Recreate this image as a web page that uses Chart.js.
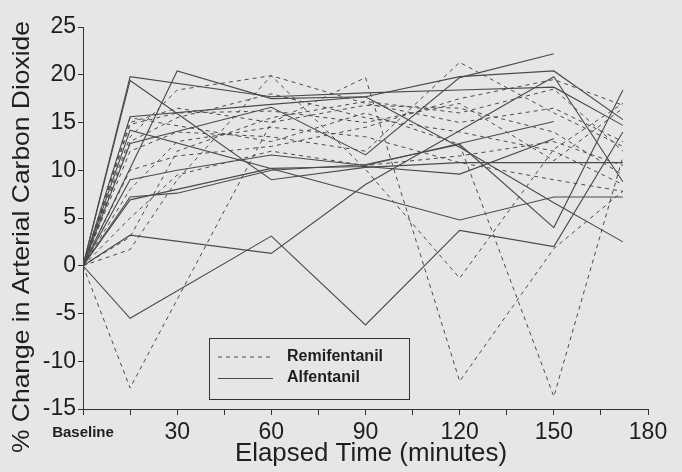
<!DOCTYPE html>
<html>
<head>
<meta charset="utf-8">
<script src="https://cdn.jsdelivr.net/npm/chart.js"></script>
<style>
  html, body { margin: 0; padding: 0; background: #e6e6e4; }
  #wrap { width: 682px; height: 472px; }
</style>
</head>
<body>
<div id="wrap"><canvas id="myChart" width="682" height="472"></canvas></div>
<script>
// sampling times (minutes); 0 = Baseline
var times = [0, 15, 30, 60, 90, 120, 150, 172];
var xTicks = [0, 30, 60, 90, 120, 150, 180];
var groupNames = ["Remifentanil", "Alfentanil"];
var xTitle = "Elapsed Time (minutes)";
var yTitle = "% Change in Arterial Carbon Dioxide";

// one row per patient, null = no sample at that time
var remifentanil = [
  [0, -12.8, null, 15.0, 19.7, -12.1, 1.8, 7.8],
  [0, 15.5, null, 13.0, 16.0, 12.7, -13.7, 11.4],
  [0, 1.7, 9.0, 19.9, 10.1, -1.3, 12.2, 17.0],
  [0, 3.0, 12.0, 15.5, 17.2, 16.0, 18.5, 12.0],
  [0, 13.5, 18.4, 19.9, 17.0, 15.0, 16.5, 13.0],
  [0, 15.0, 16.5, 15.0, 16.8, 16.5, 14.0, 9.5],
  [0, 12.0, 14.0, 13.5, 12.0, 21.3, 16.0, 12.5],
  [0, 10.0, 11.5, 12.5, 14.5, 17.5, 19.5, 16.8],
  [0, 13.0, 15.5, 18.0, 15.5, 14.0, 12.0, 8.5],
  [0, 8.0, 13.0, 14.5, 13.5, 10.8, 9.0, 7.8],
  [0, 5.0, 9.5, 12.0, 10.5, 11.5, 13.0, 10.5],
  [0, 14.8, 16.0, 16.2, 15.0, 17.0, 11.0, 16.5]
];
var alfentanil = [
  [0, -5.5, null, 3.1, -6.2, 3.7, 2.0, 14.0],
  [0, 3.2, null, 1.3, 8.5, null, 19.8, 8.8],
  [0, 19.8, null, 17.7, 18.1, 18.4, 18.7, 14.7],
  [0, 15.6, null, 16.9, 17.7, 19.8, 20.4, 15.3],
  [0, 19.4, null, 9.0, 10.3, 10.8, 10.8, 10.8],
  [0, 14.2, null, null, null, 4.8, 7.2, 7.2],
  [0, 12.8, null, 16.6, 11.6, 19.7, 22.2, null],
  [0, null, 20.4, 17.5, 17.7, 12.4, 6.6, 2.5],
  [0, 7.2, 7.6, 10.0, 10.6, 12.7, 4.0, 18.4],
  [0, 9.0, 10.0, 11.6, 10.5, 12.8, 15.1, null],
  [0, 6.9, null, 10.2, 10.4, 9.6, 13.3, null]
];

var fontFam = "'Liberation Sans', Arial, sans-serif";
var lineCol = "#4a4a4a";
var textCol = "#1e1e1e";

function toPoints(row) {
  var pts = [];
  row.forEach(function (v, i) {
    if (v !== null) pts.push({ x: times[i], y: v });
  });
  return pts;
}

var datasets = [];
remifentanil.forEach(function (row) {
  datasets.push({
    label: groupNames[0], data: toPoints(row), showLine: true,
    borderColor: lineCol, borderWidth: 1, borderDash: [4, 4],
    pointRadius: 0, fill: false
  });
});
alfentanil.forEach(function (row) {
  datasets.push({
    label: groupNames[1], data: toPoints(row), showLine: true,
    borderColor: lineCol, borderWidth: 1.1,
    pointRadius: 0, fill: false
  });
});

// squeeze/stretch a text so it spans a given width
function fitText(ctx, txt, cx, cy, width, angle) {
  ctx.save();
  ctx.translate(cx, cy);
  ctx.rotate(angle);
  var w = ctx.measureText(txt).width;
  ctx.scale(width / w, 1);
  ctx.textAlign = "center";
  ctx.textBaseline = "middle";
  ctx.fillText(txt, 0, 0);
  ctx.restore();
}

// legend box, axis titles
var extras = {
  id: "extras",
  afterDraw: function (chart) {
    var ctx = chart.ctx;
    ctx.save();
    ctx.strokeStyle = "#333";
    ctx.lineWidth = 1;
    ctx.strokeRect(209.5, 338.5, 200, 61);
    ctx.strokeStyle = lineCol;
    ctx.setLineDash([4, 4]);
    ctx.beginPath(); ctx.moveTo(218, 357); ctx.lineTo(273, 357); ctx.stroke();
    ctx.setLineDash([]);
    ctx.beginPath(); ctx.moveTo(218, 378.5); ctx.lineTo(273, 378.5); ctx.stroke();
    ctx.fillStyle = textCol;
    ctx.font = "bold 16px " + fontFam;
    ctx.textBaseline = "middle";
    ctx.fillText(groupNames[0], 287, 357);
    ctx.fillText(groupNames[1], 287, 378);

    ctx.font = "24px " + fontFam;
    fitText(ctx, yTitle, 22, 237, 432, -Math.PI / 2);
    ctx.font = "25px " + fontFam;
    fitText(ctx, xTitle, 371, 454, 272, 0);
    ctx.restore();
  }
};

new Chart("myChart", {
  type: "scatter",
  data: { datasets: datasets },
  plugins: [extras],
  options: {
    responsive: false,
    animation: false,
    layout: { padding: { top: 27, right: 34, left: 0, bottom: 0 } },
    plugins: { legend: { display: false }, tooltip: { enabled: false } },
    scales: {
      x: {
        type: "linear", min: 0, max: 180,
        afterBuildTicks: function (s) {
          s.ticks = [];
          for (var v = 0; v <= 180; v += 15) s.ticks.push({ value: v });
        },
        afterFit: function (s) { s.height = 63; },
        border: { display: true, color: "#333", width: 1 },
        grid: { drawOnChartArea: false, drawTicks: true, tickLength: 6, color: "#333" },
        ticks: {
          autoSkip: false, maxRotation: 0, padding: 4, color: textCol,
          callback: function (v) {
            if (v === 0) return "Baseline";
            return xTicks.indexOf(v) >= 0 ? String(v) : "";
          },
          font: function (c) {
            return c.tick && c.tick.value === 0
              ? { family: fontFam, size: 15, weight: "bold", lineHeight: 1.84 }
              : { family: fontFam, size: 23 };
          }
        }
      },
      y: {
        min: -15, max: 25,
        afterFit: function (s) { s.width = 83; },
        border: { display: true, color: "#333", width: 1 },
        grid: { drawOnChartArea: false, drawTicks: true, tickLength: 5, color: "#333" },
        ticks: { stepSize: 5, padding: 2, color: textCol, font: { family: fontFam, size: 23 } }
      }
    }
  }
});
</script>
</body>
</html>
